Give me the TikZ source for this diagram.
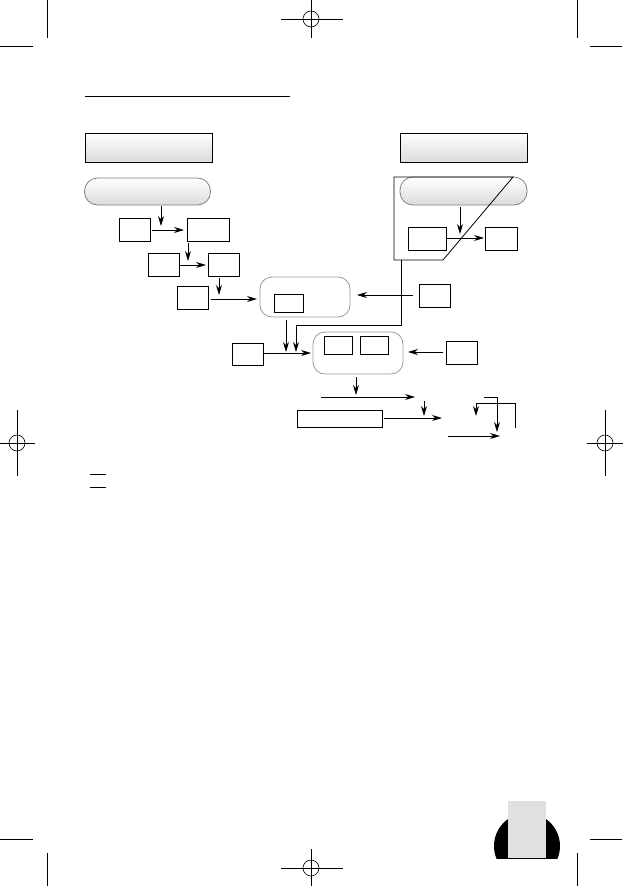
\documentclass[tikz,border=0pt]{standalone}
\usetikzlibrary{arrows.meta}
\begin{document}
\begin{tikzpicture}[x=1pt,y=-1pt,
  line width=0.8pt,
  arr/.style={-{Stealth[length=10pt,width=6pt]}},
  plainbox/.style={draw=black,fill=white,inner sep=0pt,minimum width=31pt,minimum height=23pt},
  graybox/.style={draw=black,inner sep=0pt,top color=white,bottom color=black!14,minimum width=127pt,minimum height=29pt},
  pill/.style={draw=gray,inner sep=0pt,top color=white,bottom color=black!14,rounded corners=13pt,minimum width=126pt,minimum height=27pt},
  roundframe/.style={draw=gray!80,inner sep=0pt,rounded corners=12pt},
  crop/.style={line width=0.7pt},
  reg/.style={line width=0.6pt}]
\useasboundingbox (0,0) rectangle (622,886);

% ---- crop and registration marks ----
\draw[crop] (47,0) -- (47,38);
\draw[crop] (0,46) -- (33,46);
\draw[crop] (577,0) -- (577,38);
\draw[crop] (590,46) -- (622,46);
\draw[crop] (0,839) -- (33,839);
\draw[crop] (47,853) -- (47,886);
\draw[crop] (590,839) -- (622,839);
\draw[crop] (577,853) -- (577,886);
\foreach \cx/\cy in {311/19,311/868}{
  \draw[reg] (\cx,\cy) circle[radius=8];
  \draw[reg] (\cx-30,\cy) -- (\cx+32,\cy);
  \draw[reg] (\cx,\cy-19) -- (\cx,\cy+19);
}
\foreach \cx/\cy in {17/443,605/443}{
  \draw[reg] (\cx,\cy) circle[radius=8];
  \draw[reg] (\cx-18,\cy) -- (\cx+18,\cy);
  \draw[reg] (\cx,\cy-33) -- (\cx,\cy+33);
}

% ---- page tab ----
\begin{scope}
  \clip (480,790) rectangle (575,858);
  \fill[black] (527,846) circle[radius=33];
\end{scope}
\fill[black!12] (508,801) rectangle (546,858);

% ---- header rule ----
\draw (85,96) -- (290,96);

% ---- left column ----
\node[graybox] (g1) at (148.5,147.5) {};
\node[pill] (p1) at (147.5,191.5) {};
\node[plainbox] (l1) at (134.5,229.5) {};
\node[plainbox,minimum width=42pt] (l2) at (208,229.5) {};
\node[plainbox] (l3) at (163.5,264.5) {};
\node[plainbox] (l4) at (223.5,264.5) {};
\node[plainbox] (l5) at (192.5,297.5) {};
\node[plainbox,minimum height=22pt] (l6) at (247.5,354) {};

% ---- right column ----
\node[graybox] (g2) at (463.5,147.5) {};
\node[pill,minimum width=127pt,minimum height=28pt] (p2) at (463.5,191) {};
\draw (394,177) -- (513,177) -- (443,260) -- (394,260) -- cycle;
\node[plainbox,minimum width=38pt] (ra) at (427,238.5) {};
\node[plainbox,minimum width=32pt] (rb) at (501,238.5) {};
\node[plainbox] (r3) at (434.5,295.5) {};
\node[plainbox] (r4) at (461.5,352.5) {};

% ---- middle ----
\node[roundframe,minimum width=90pt,minimum height=40pt] (m1) at (305,297) {};
\node[plainbox,minimum width=29pt,minimum height=18pt] (m1a) at (288.5,303) {};
\node[roundframe,minimum width=90pt,minimum height=42pt] (m2) at (358,353) {};
\node[plainbox,minimum width=28pt,minimum height=18pt] (m2a) at (338,345) {};
\node[plainbox,minimum width=28pt,minimum height=18pt] (m2b) at (374,345) {};
\node[plainbox,minimum width=85pt,minimum height=17pt] (w) at (339.5,418.5) {};

% ---- free connector ends ----
\coordinate (c1s) at (161,206);  \coordinate (c1e) at (161,226);
\coordinate (c2e) at (184,230);
\coordinate (c3s) at (188,243);  \coordinate (c3e) at (188,261);
\coordinate (c4e) at (206,265);
\coordinate (c5s) at (219,278);  \coordinate (c5e) at (219,295);
\coordinate (c6e) at (257,299);
\coordinate (c7e) at (357,295);
\coordinate (c8s) at (286,320);  \coordinate (c8e) at (286,352);
\coordinate (c9s) at (401,260);  \coordinate (c9a) at (401,325);
\coordinate (c9b) at (296,325);  \coordinate (c9e) at (296,352);
\coordinate (c10e) at (311,353);
\coordinate (c11e) at (408,352);
\coordinate (c12s) at (356,377); \coordinate (c12e) at (356,395);
\coordinate (c13s) at (321,397); \coordinate (c13e) at (415,397);
\coordinate (c14s) at (424,401); \coordinate (c14e) at (424,416);
\coordinate (c15e) at (442,418);
\coordinate (c16s) at (515,428); \coordinate (c16a) at (515,403);
\coordinate (c16b) at (476,403); \coordinate (c16e) at (476,416);
\coordinate (c17s) at (484,397); \coordinate (c17a) at (497,397);
\coordinate (c17e) at (497,432);
\coordinate (c18s) at (448,436); \coordinate (c18e) at (500,436);
\coordinate (c19s) at (460,207); \coordinate (c19e) at (460,234);
\coordinate (c20e) at (484,238);

% ---- connectors ----
\draw[arr] (c1s) -- (c1e);
\draw[arr] ([xshift=2pt]l1.east |- c2e) -- (c2e);
\draw[arr] (c3s) -- (c3e);
\draw[arr] ([xshift=1pt]l3.east |- c4e) -- (c4e);
\draw[arr] (c5s) -- (c5e);
\draw[arr] ([xshift=3pt]l5.east |- c6e) -- (c6e);
\draw[arr] ([xshift=-6pt]r3.west |- c7e) -- (c7e);
\draw[arr] (c8s) -- (c8e);
\draw[arr] (c9s) -- (c9a) -- (c9b) -- (c9e);
\draw[arr] ([xshift=1pt]l6.east |- c10e) -- (c10e);
\draw[arr] ([xshift=-3pt]r4.west |- c11e) -- (c11e);
\draw[arr] (c12s) -- (c12e);
\draw[arr] (c13s) -- (c13e);
\draw[arr] (c14s) -- (c14e);
\draw[arr] ([xshift=2pt]w.east |- c15e) -- (c15e);
\draw[arr] (c16s) -- (c16a) -- (c16b) -- (c16e);
\draw[arr] (c17s) -- (c17a) -- (c17e);
\draw[arr] (c18s) -- (c18e);
\draw[arr] (c19s) -- (c19e);
\draw[arr] ([xshift=1pt]ra.east |- c20e) -- (c20e);

% ---- small marks ----
\draw (90,474) -- (106,474);
\draw (90,487) -- (106,487);
\end{tikzpicture}
\end{document}
